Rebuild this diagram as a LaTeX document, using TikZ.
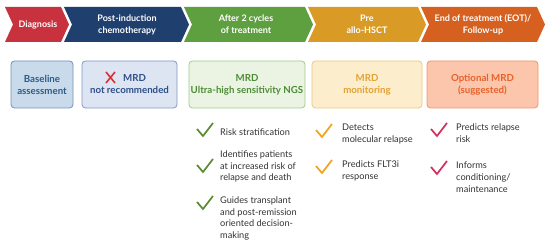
\documentclass[tikz,border=0pt]{standalone}
\usepackage{fontspec}
\setmainfont{Lato}
\definecolor{cRed}{HTML}{C8323F}
\definecolor{cNavy}{HTML}{1F3F6E}
\definecolor{cGreen}{HTML}{5E9F3F}
\definecolor{cGold}{HTML}{D99B26}
\definecolor{cOrange}{HTML}{D6601F}
\definecolor{bBlueF}{HTML}{C9DBEA}
\definecolor{bBlueD}{HTML}{6F92B8}
\definecolor{bLavF}{HTML}{DDE4F2}
\definecolor{bLavD}{HTML}{8198C6}
\definecolor{bGreenF}{HTML}{EBF4E3}
\definecolor{bGreenD}{HTML}{A2CB8F}
\definecolor{bYelF}{HTML}{FCEDCC}
\definecolor{bYelD}{HTML}{EEC97E}
\definecolor{bOrF}{HTML}{FBC6AC}
\definecolor{bOrD}{HTML}{F0966D}
\definecolor{tBlue}{HTML}{2C5A8A}
\definecolor{tLav}{HTML}{2D4F88}
\definecolor{tGreen}{HTML}{4D8B36}
\definecolor{tYel}{HTML}{E2A234}
\definecolor{tOr}{HTML}{E8622B}
\definecolor{xRed}{HTML}{D9303A}
\definecolor{kGreen}{HTML}{5C8B2F}
\definecolor{kYel}{HTML}{F2A31E}
\definecolor{kRed}{HTML}{D2305C}
\definecolor{txtgray}{HTML}{333333}
\begin{document}
\begin{tikzpicture}[x=1pt,y=-1pt,
  hdr/.style={text=white,font=\bfseries\fontsize{9}{12}\selectfont,align=center},
  box/.style={rounded corners=3.5pt,line width=0.8pt,align=center,
    font=\bfseries\fontsize{9.7}{12}\selectfont,minimum height=47pt,inner sep=1pt},
  item/.style={anchor=west,align=left,text=txtgray,font=\fontsize{9.2}{11.8}\selectfont,inner sep=0pt},
  chk/.style={line width=1.7pt,line join=miter,line cap=butt}]
\useasboundingbox[fill=white] (0,0) rectangle (550,245);
% chevrons
\fill[cRed] (5,7) -- (61,7) -- (69,24.5) -- (61,42) -- (5,42) -- (13,24.5) -- cycle;
\fill[cNavy] (64,7) -- (181,7) -- (189,24.5) -- (181,42) -- (64,42) -- (72,24.5) -- cycle;
\fill[cGreen] (184,7) -- (305,7) -- (313,24.5) -- (305,42) -- (184,42) -- (192,24.5) -- cycle;
\fill[cGold] (308,7) -- (418,7) -- (426,24.5) -- (418,42) -- (308,42) -- (316,24.5) -- cycle;
\fill[cOrange] (421,7) -- (537,7) -- (545,24.5) -- (537,42) -- (421,42) -- (429,24.5) -- cycle;
\node[hdr] (h1) at (38,24.5) {Diagnosis};
\node[hdr] (h2) at (127,24.5) {Post-induction\\chemotherapy};
\node[hdr] (h3) at (246,24.5) {After 2 cycles\\of treatment};
\node[hdr] (h4) at (367,24.5) {Pre\\allo-HSCT};
\node[hdr] (h5) at (483,24.5) {End of treatment (EOT)/\\Follow-up};
% boxes
\node[box,draw=bBlueD,fill=bBlueF,text=tBlue,minimum width=62pt] (b1) at (42,84.5) {Baseline\\assessment};
\node[box,draw=bLavD,fill=bLavF,text=tLav,minimum width=95pt] (b2) at (129.5,84.5) {\hspace*{10pt}MRD\\not recommended};
\node[box,draw=bGreenD,fill=bGreenF,text=tGreen,minimum width=116pt] (b3) at (247,84.5) {MRD\\Ultra-high sensitivity NGS};
\node[box,draw=bYelD,fill=bYelF,text=tYel,minimum width=110pt] (b4) at (367,84.5) {MRD\\monitoring};
\node[box,draw=bOrD,fill=bOrF,text=tOr,minimum width=111pt] (b5) at (482.5,84.5) {Optional MRD\\(suggested)};
\draw[xRed,line width=1.6pt] (106,72) -- (115,83) (115,72) -- (106,83);
% green list
\draw[chk,kGreen,shift={(205,130)}] (-8,-1) -- (-2,6) -- (8,-7);
\node[item] (g1) at (220,132) {Risk stratification};
\draw[chk,kGreen,shift={(205,166)}] (-8,-1) -- (-2,6) -- (8,-7);
\node[item] (g2) at (220,166.5) {Identifies patients\\at increased risk of\\relapse and death};
\draw[chk,kGreen,shift={(205,203)}] (-8,-1) -- (-2,6) -- (8,-7);
\node[item] (g3) at (220,218.5) {Guides transplant\\and post-remission\\oriented decision-\\making};
% yellow list
\draw[chk,kYel,shift={(324,131)}] (-8,-1) -- (-2,6) -- (8,-7);
\node[item] (y1) at (342,134) {Detects\\molecular relapse};
\draw[chk,kYel,shift={(324,167)}] (-8,-1) -- (-2,6) -- (8,-7);
\node[item] (y2) at (342,171) {Predicts FLT3i\\response};
% red list
\draw[chk,kRed,shift={(439,130)}] (-8,-1) -- (-2,6) -- (8,-7);
\node[item] (r1) at (456,133.5) {Predicts relapse\\risk};
\draw[chk,kRed,shift={(439,168)}] (-8,-1) -- (-2,6) -- (8,-7);
\node[item] (r2) at (456,177) {Informs\\conditioning/\\maintenance};
\end{tikzpicture}
\end{document}
